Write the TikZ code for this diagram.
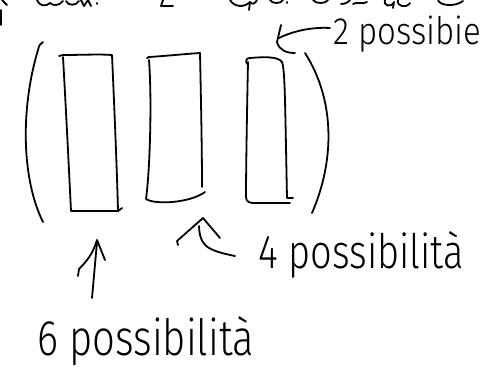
\documentclass[tikz,border=0pt]{standalone}
\usepackage{fontspec}
\newfontfamily\hand{Fira Sans Light}
\begin{document}
\begin{tikzpicture}[x=1pt,y=-1pt,
  pen/.style={line width=1.8pt,line cap=round,line join=round,black},
  lab/.style={anchor=base west,inner sep=0pt,font=\hand}]
\useasboundingbox (0,0) rectangle (494,383);

% scraps of the line written above, cut by the top edge
\begin{scope}[pen]
  \draw (1,10) -- (1,25);
  \draw (2,0) -- (7,5);
  \draw (37,0) .. controls (39,6) and (46,7) .. (50,3) .. controls (53,6) and (59,6) .. (63,1);
  \draw (66,1) .. controls (68,6) and (76,6) .. (79,1);
  \draw (81,0) -- (84,6) -- (88,0) -- (91,6);
  \draw (97,3) -- (97,4);
  \draw (163,0) -- (161,6) -- (173,6);
  \draw (230,0) .. controls (234,7) and (244,8) .. (250,2) -- (249,10);
  \draw (250,2) .. controls (252,5) and (255,4) .. (257,0);
  \draw (270,0) .. controls (272,4) and (281,4) .. (283,0);
  \draw (287,2) -- (287,3);
  \draw (313,0) .. controls (315,4) and (326,4) .. (328,0);
  \draw (341,4) .. controls (345,4) and (349,2) .. (350,0);
  \draw (353,4) .. controls (357,1) and (362,5) .. (367,2);
  \draw (385,0) .. controls (383,6) and (391,8) .. (394,2) -- (393,8);
  \draw (398,0) .. controls (396,6) and (406,9) .. (410,3);
  \draw (438,0) .. controls (440,6) and (455,7) .. (463,1);
\end{scope}

% the three slots
\begin{scope}[pen]
  % slot one
  \draw (59,56) -- (63,55) .. controls (80,55) and (100,54) .. (112,55)
        .. controls (114,100) and (117,170) .. (118,211) -- (122,208);
  \draw (63,57) .. controls (66,110) and (69,170) .. (71,211) -- (118,211);
  % slot two
  \draw (147,58) -- (149,57) .. controls (165,56) and (185,54) .. (200,53)
        .. controls (201,100) and (202,150) .. (202,187);
  \draw (149,60) .. controls (152,100) and (150,170) .. (146,199)
        .. controls (155,205) and (190,203) .. (205,192);
  % slot three
  \draw (247,64) .. controls (245,60) and (247,58) .. (250,58)
        .. controls (262,57) and (278,56) .. (282,62)
        .. controls (285,70) and (285,100) .. (287,198) -- (293,198);
  \draw (248,62) .. controls (247,110) and (246,170) .. (246,196)
        .. controls (246,203) and (250,203) .. (256,203) -- (290,203);
  % brackets round them
  \draw (43,42) .. controls (40,43) and (39,46) .. (38,50)
        .. controls (20,110) and (22,180) .. (43,222);
  \draw (305,53) .. controls (335,100) and (335,160) .. (312,213);
\end{scope}

% labels
\node[lab,yscale=1.15,font=\hand\fontsize{33}{33}\selectfont] (two) at (333,44) {2 possibie};
\node[lab,yscale=1.25,font=\hand\fontsize{38}{38}\selectfont] (four) at (258,268) {4 possibilità};
\node[lab,yscale=1.25,font=\hand\fontsize{40}{40}\selectfont] (six) at (37,355) {6 possibilità};

% arrow tips and shaft ends
\coordinate (tipA) at (277,42);
\coordinate (tailA) at (330,28);
\coordinate (tipB) at (203,218);
\coordinate (tailB) at (235,256);
\coordinate (tipC) at (97,240);
\coordinate (tailC) at (92,298);

\begin{scope}[pen]
  % arrow from "2 possibie"
  \draw (tailA) .. controls (315,27) and (295,30) .. ([shift={(2,-4)}]tipA);
  \draw (281,25) -- (tipA) .. controls (279,50) and (286,53) .. (295,53);
  % arrow from "4 possibilità"
  \draw (tailB) .. controls (205,250) and (200,245) .. ([shift={(-4,8)}]tipB);
  \draw (178,245) -- (177,241) -- (tipB) -- (220,238);
  % arrow from "6 possibilità"
  \draw (tailC) -- ([shift={(0,2)}]tipC);
  \draw (78,276) -- (79,269) .. controls (86,262) and (93,254) .. (tipC) -- (105,260);
\end{scope}
\end{tikzpicture}
\end{document}
